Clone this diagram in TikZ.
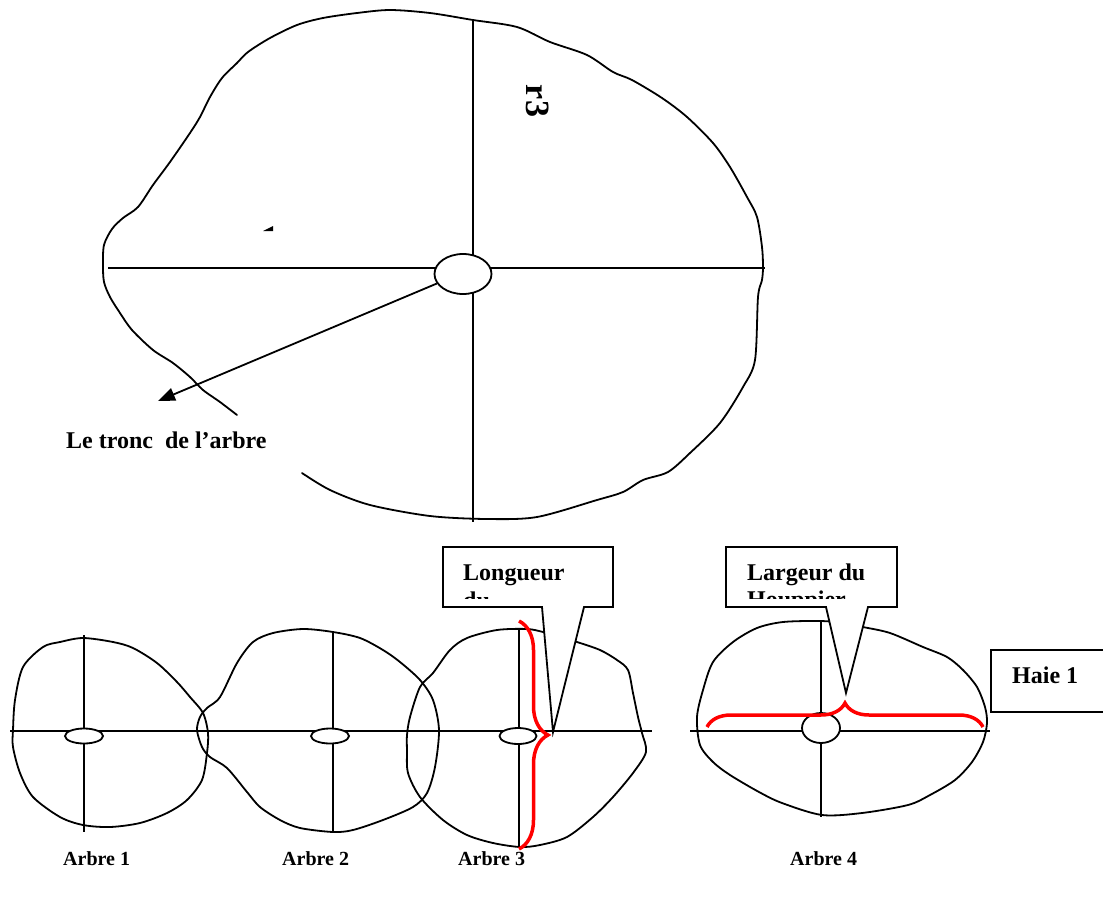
\documentclass[tikz,border=0pt]{standalone}
\usepackage{fontspec}
\setmainfont{Liberation Serif}
\usetikzlibrary{shapes.geometric,arrows.meta,decorations.pathreplacing}
\begin{document}
\begin{tikzpicture}[x=1pt,y=-1pt,
  outline/.style={line width=1.8pt, line join=round, line cap=round},
  axis/.style={line width=1.8pt},
  trunk/.style={draw, ellipse, line width=1.8pt, fill=white, inner sep=0pt},
  lbl/.style={font=\fontsize{24}{28}\selectfont\bfseries, inner sep=0pt},
  smalllbl/.style={font=\fontsize{20}{24}\selectfont\bfseries, inner sep=0pt},
  callout/.style={draw, line width=1.8pt, fill=white, line join=miter},
  redbrace/.style={draw=red, line width=3.5pt, decorate, decoration={brace, amplitude=#1, aspect=0.5}},
  arrowline/.style={line width=1.8pt, -{Triangle[length=17pt,width=13pt]}},
]
\useasboundingbox (0,0) rectangle (1103,897);

% ---------------- big tree ----------------
\draw[outline] plot[smooth, tension=0.5] coordinates {
 (237,415) (220,402) (203,390) (190,377) (173,363) (153,350) (132,330) (120,313)
 (110,297) (104,282) (103,265) (104,245) (112,229) (123,218) (138,207) (153,185)
 (170,162) (190,133) (200,117) (210,97) (222,78) (237,63) (248,52) (270,38)
 (297,25) (323,18) (357,13) (390,10) (430,13) (473,20) (517,27) (550,42)
 (587,55) (613,72) (632,80) (662,98) (687,117) (713,143) (730,167) (747,197)
 (757,217) (762,247) (763,267) (762,280) (758,297) (755,360) (743,387) (720,423)
 (690,453) (668,472) (643,480) (623,492) (597,500) (537,517) (487,519) (430,516)
 (370,505) (330,490) (302,473)};
\coordinate (Hl) at (108,268); \coordinate (Hr) at (765,268);
\coordinate (Vt) at (473,20);  \coordinate (Vb) at (473,522);
\draw[axis] (Hl) -- (Hr);
\draw[axis] (Vt) -- (Vb);
\node[trunk, minimum width=57pt, minimum height=40pt] (T) at (463,274) {};
\coordinate (arrowtip) at (158,401);
\draw[arrowline] (T.200) -- (arrowtip);
\node[lbl, anchor=base west] (tronc) at (66,448) {Le tronc\ \ de l’arbre};
\node[font=\fontsize{34}{40}\selectfont\bfseries, inner sep=0pt, rotate=-90] (r3) at (538,101) {r3};
\fill (263,231) -- (273,231) -- (273,226) -- cycle;

% ---------------- row of trees ----------------
% tree 1
\draw[outline] plot[smooth cycle, tension=0.5] coordinates {
 (13,730) (15,700) (23,667) (43,647) (60,642) (83,638) (113,642) (133,648)
 (157,663) (177,682) (190,697) (203,713) (208,733) (207,753) (202,780) (187,800)
 (167,813) (140,823) (110,827) (83,825) (60,817) (33,797) (20,773) (13,747)};
% tree 2
\draw[outline] plot[smooth cycle, tension=0.5] coordinates {
 (207,708) (220,697) (237,663) (253,642) (273,633) (303,629) (333,632) (360,638)
 (383,650) (400,662) (420,680) (433,700) (439,730) (435,767) (427,793) (413,807)
 (383,820) (353,830) (333,832) (300,828) (280,820) (260,807) (247,792) (227,768)
 (210,757) (202,747) (197,730) (200,717)};
% tree 3
\draw[outline] plot[smooth cycle, tension=0.5] coordinates {
 (410,717) (420,687) (433,673) (450,650) (467,638) (497,630) (527,629) (543,632)
 (560,637) (577,642) (600,650) (617,660) (628,670) (633,693) (638,717) (642,733)
 (646,752) (633,773) (613,797) (593,817) (567,837) (540,845) (520,847) (493,843)
 (467,835) (443,820) (420,797) (408,773) (407,750) (407,735)};
% tree 4
\draw[outline] plot[smooth cycle, tension=0.5] coordinates {
 (697,717) (703,690) (713,662) (733,642) (757,628) (783,622) (820,621) (845,623)
 (863,627) (890,633) (923,647) (947,657) (963,670) (977,687) (985,707) (987,723)
 (983,742) (972,762) (955,780) (930,795) (908,805) (862,813) (822,815) (782,803)
 (759,792) (730,775) (713,762) (700,745)};

% axes
\coordinate (L1) at (10,731);  \coordinate (L2) at (652,731);
\coordinate (L3) at (690,731); \coordinate (L4) at (990,731);
\draw[axis] (L1) -- (L2);
\draw[axis] (L3) -- (L4);
\coordinate (a1t) at (84,635);  \coordinate (a1b) at (84,832);
\coordinate (a2t) at (333,632); \coordinate (a2b) at (333,833);
\coordinate (a3t) at (519,628); \coordinate (a3b) at (519,848);
\coordinate (a4t) at (821,620); \coordinate (a4b) at (821,817);
\draw[axis] (a1t) -- (a1b);
\draw[axis] (a2t) -- (a2b);
\draw[axis] (a3t) -- (a3b);
\draw[axis] (a4t) -- (a4b);

% trunks
\node[trunk, minimum width=38pt, minimum height=15pt] (t1) at (84,736) {};
\node[trunk, minimum width=38pt, minimum height=15pt] (t2) at (330,736) {};
\node[trunk, minimum width=37pt, minimum height=16pt] (t3) at (518,736) {};
\node[trunk, minimum width=38pt, minimum height=30pt] (t4) at (821,728) {};

% callout Longueur
\coordinate (tip3) at (553,732);
\draw[callout] (443,547) -- (613,547) -- (613,607) -- (584,607) -- (tip3) -- (542,607) -- (443,607) -- cycle;
\begin{scope}
  \clip (445,549) rectangle (611,598);
  \node[lbl, anchor=base west] (lon1) at (463,580) {Longueur};
  \node[lbl, anchor=base west] (lon2) at (463,608) {du};
\end{scope}

% callout Largeur
\coordinate (tip4) at (846,693);
\draw[callout] (726,547) -- (897,547) -- (897,607) -- (868,607) -- (tip4) -- (826,607) -- (726,607) -- cycle;
\begin{scope}
  \clip (728,549) rectangle (895,598);
  \node[lbl, anchor=base west] (lar1) at (747,580) {Largeur du};
  \node[lbl, anchor=base west] (lar2) at (747,607) {Houppier};
\end{scope}

% Haie 1 box
\draw[line width=1.8pt] (991,650) rectangle (1110,712);
\node[lbl, anchor=base west] (haie) at (1012,683) {Haie 1};

% red braces
\coordinate (b3a) at (519,621); \coordinate (b3b) at (519,849);
\draw[redbrace=29pt] (b3a) -- (b3b);
\coordinate (b4a) at (707,727); \coordinate (b4b) at (983,727);
\draw[redbrace=24pt] (b4a) -- (b4b);

% labels
\node[smalllbl, anchor=base west] (n1) at (63,865) {Arbre 1};
\node[smalllbl, anchor=base west] (n2) at (282,865) {Arbre 2};
\node[smalllbl, anchor=base west] (n3) at (458,865) {Arbre 3};
\node[smalllbl, anchor=base west] (n4) at (790,865) {Arbre 4};
\end{tikzpicture}
\end{document}
